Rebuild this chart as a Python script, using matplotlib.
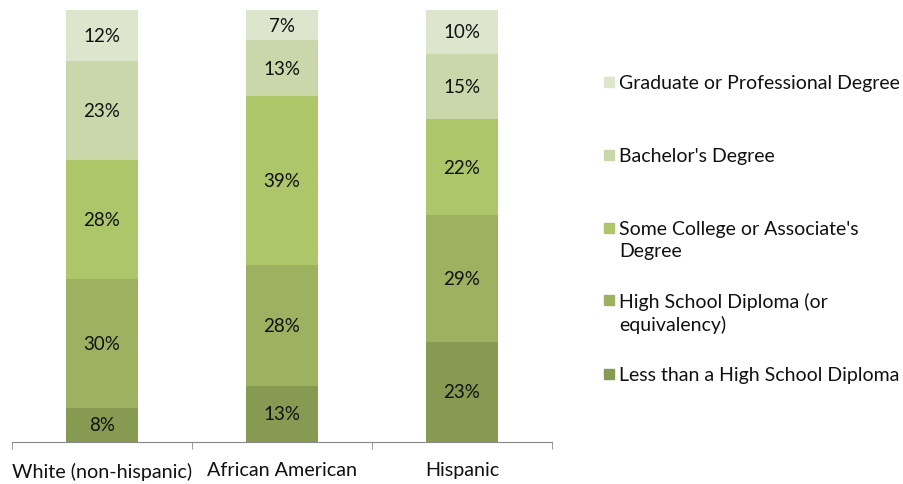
import numpy as np
import matplotlib.pyplot as plt
from matplotlib.patches import Rectangle

plt.rcParams['font.family'] = ['Lato', 'DejaVu Sans']

groups = ["White (non-hispanic)", "African American", "Hispanic"]
levels = [
    "Less than a High School Diploma",
    "High School Diploma (or\nequivalency)",
    "Some College or Associate's\nDegree",
    "Bachelor's Degree",
    "Graduate or Professional Degree",
]
less_than_hs = [8, 13, 23]
hs_diploma = [30, 28, 29]
some_college = [28, 39, 22]
bachelors = [23, 13, 15]
graduate = [12, 7, 10]
colors = ["#879A52", "#9DB161", "#ADC66A", "#C9D7AA", "#DDE5CD"]

series = [less_than_hs, hs_diploma, some_college, bachelors, graduate]
vals = np.array(series, dtype=float)
shares = vals / vals.sum(axis=0) * 100  # 100% stacked

fig = plt.figure(figsize=(9.04, 4.85), dpi=100)
ax = fig.add_axes([12 / 904, 42 / 485, 540 / 904, 432 / 485])

x = np.arange(len(groups))
bottom = np.zeros(len(groups))
for vals_row, share, col in zip(series, shares, colors):
    ax.bar(x, share, bottom=bottom, width=0.397, color=col, edgecolor='none')
    for xi, b, h, v in zip(x, bottom, share, vals_row):
        ax.text(xi, b + h / 2, f"{v}%", ha='center', va='center', fontsize=13.5, color='#111111')
    bottom += share

ax.set_xlim(-0.5, len(groups) - 0.5)
ax.set_ylim(0, 100)
for s in ['top', 'right', 'left']:
    ax.spines[s].set_visible(False)
ax.spines['bottom'].set_color('#888888')
ax.set_yticks([])
ax.set_xticks(np.arange(len(groups) + 1) - 0.5, minor=True)
ax.set_xticks(x)
ax.set_xticklabels(groups, fontsize=14.2, color='#111111')
ax.tick_params(axis='x', which='major', length=0, pad=14)
ax.tick_params(axis='x', which='minor', length=5, color='#888888')

# legend, top entry first
leg_y = [83, 156, 229, 301, 375]
for name, col, yy in zip(levels[::-1], colors[::-1], leg_y):
    fig.patches.append(Rectangle((604 / 904, 1 - (yy + 5) / 485), 10 / 904, 10 / 485,
                                 transform=fig.transFigure, color=col))
    fig.text(619 / 904, 1 - (yy - 8) / 485, name, ha='left', va='top',
             fontsize=14, color='#111111', linespacing=1.35)

fig.savefig('out.png', dpi=100)
